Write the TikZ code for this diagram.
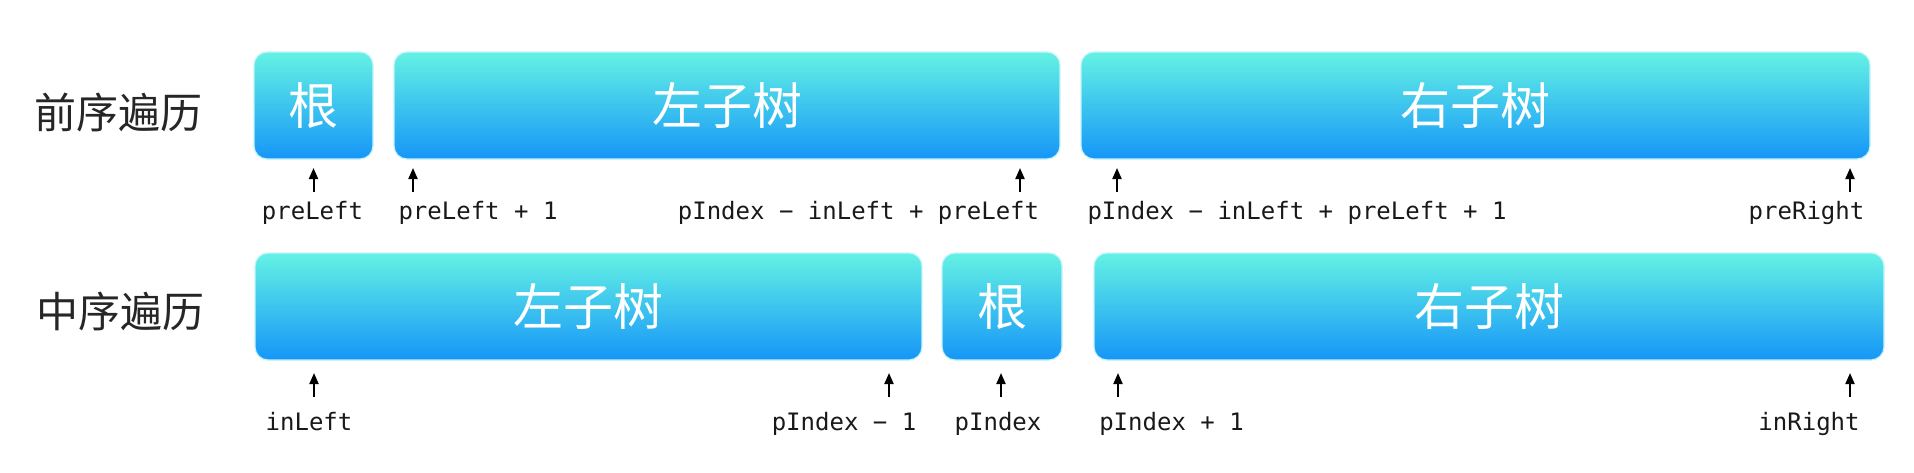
\documentclass[tikz,border=0pt]{standalone}
\usepackage{fontspec}
\setmonofont{DejaVu Sans Mono}
\newfontfamily\cjk{Noto Sans CJK SC}
\usetikzlibrary{arrows.meta}
\definecolor{boxtop}{RGB}{100,242,228}
\definecolor{boxbot}{RGB}{22,150,248}
\definecolor{boxrim}{RGB}{195,244,252}
\tikzset{
  treebox/.style={rounded corners=6.5pt,top color=boxtop,bottom color=boxbot,
    draw=boxrim,line width=0.6pt,minimum height=53.5pt,inner sep=0pt,
    text=white,font=\cjk\fontsize{25}{25}\selectfont},
  idxlabel/.style={anchor=base,inner sep=0pt,text=black!90,
    font=\ttfamily\fontsize{12}{12}\selectfont},
  ordername/.style={inner sep=0pt,text=black!85,font=\cjk\fontsize{21}{21}\selectfont},
  ptr/.style={-{Triangle[length=5.5pt,width=4.5pt]},line width=1pt},
}
\begin{document}
\begin{tikzpicture}[x=0.5pt,y=-0.5pt]
\useasboundingbox (0,0) rectangle (1914,472);
% traversal names
\node[ordername] (pre) at (118,112) {前序遍历};
\node[ordername] (in) at (120,311.5) {中序遍历};
% preorder row
\node[treebox,minimum width=59.5pt] (preroot) at (313.5,105.5) {根};
\node[treebox,minimum width=333pt] (preleft) at (727,105.5) {左子树};
\node[treebox,minimum width=394.5pt] (preright) at (1475.5,105.5) {右子树};
% inorder row
\node[treebox,minimum width=333.5pt] (inleft) at (588.5,306.5) {左子树};
\node[treebox,minimum width=60pt] (inroot) at (1002,306.5) {根};
\node[treebox,minimum width=395pt] (inright) at (1489,306.5) {右子树};
% pointers
\foreach \n/\x in {pa/313.5,pb/413,pc/1020,pd/1117,pe/1850} {
  \coordinate (\n-tail) at (\x,192);
  \coordinate (\n-head) at (\x,168);
  \draw[ptr] (\n-tail) -- (\n-head);
}
\foreach \n/\x in {ia/314,ib/889,ic/1001,id/1118,ie/1850} {
  \coordinate (\n-tail) at (\x,397);
  \coordinate (\n-head) at (\x,373);
  \draw[ptr] (\n-tail) -- (\n-head);
}
% index labels
\node[idxlabel] (preL) at (312.5,219) {preLeft};
\node[idxlabel] (preL1) at (478,219) {preLeft + 1};
\node[idxlabel] (preLend) at (858.5,219) {pIndex − inLeft + preLeft};
\node[idxlabel] (preRbeg) at (1297,219) {pIndex − inLeft + preLeft + 1};
\node[idxlabel] (preR) at (1806.5,219) {preRight};
\node[idxlabel] (inL) at (309,430) {inLeft};
\node[idxlabel] (pidxm) at (844,430) {pIndex − 1};
\node[idxlabel] (pidx) at (998,430) {pIndex};
\node[idxlabel] (pidxp) at (1171.5,430) {pIndex + 1};
\node[idxlabel] (inR) at (1809,430) {inRight};
\end{tikzpicture}
\end{document}
